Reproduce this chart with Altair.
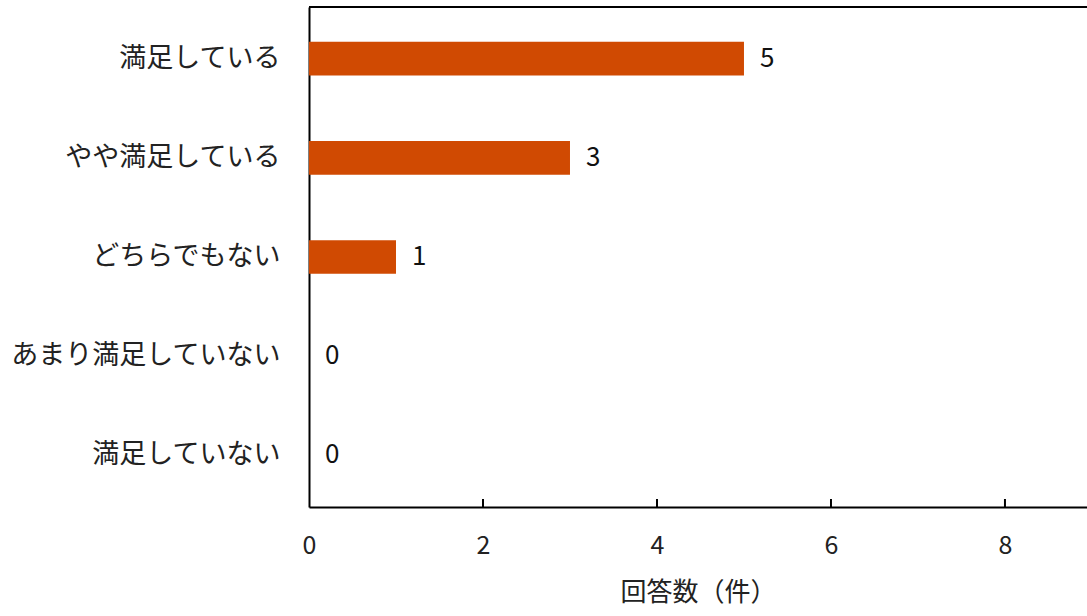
import altair as alt
import pandas as pd

categories = ["満足している", "やや満足している", "どちらでもない", "あまり満足していない", "満足していない"]
counts = [5, 3, 1, 0, 0]
tick_values = [2, 4, 6, 8]

df = pd.DataFrame({"cat": categories, "n": counts})
ticks_df = pd.DataFrame({"t": tick_values})

W, H = 778, 500
FONT = "Noto Sans CJK JP"

x_scale = alt.Scale(domain=[0, 8.943], nice=False, zero=True)
y_scale = alt.Scale(domain=categories, paddingInner=0.66, paddingOuter=0.35)

bars = alt.Chart(df).mark_bar(color="#D04A02").encode(
    x=alt.X("n:Q", scale=x_scale,
            axis=alt.Axis(title="回答数（件）", values=[0, 2, 4, 6, 8], format="d", tickSize=0,
                          labelFontSize=25, labelPadding=26, labelColor="#222222",
                          labelFlush=False,
                          titleFontSize=26, titlePadding=21, titleColor="#222222",
                          titleFontWeight="normal", domainColor="#000000", domainWidth=2,
                          grid=False, labelFont=FONT, titleFont=FONT)),
    y=alt.Y("cat:N", scale=y_scale, sort=categories,
            axis=alt.Axis(title=None, ticks=False, labelFontSize=27, labelPadding=29,
                          labelLimit=0, labelColor="#222222", domainColor="#000000",
                          domainWidth=2, labelFont=FONT, grid=False)),
)

labels = alt.Chart(df).mark_text(align="left", baseline="middle", dx=16, fontSize=26,
                                 font=FONT, color="#111111").encode(
    x=alt.X("n:Q", scale=x_scale),
    y=alt.Y("cat:N", scale=y_scale, sort=categories),
    text=alt.Text("n:Q", format="d"),
)

inner_ticks = alt.Chart(ticks_df).mark_rule(color="#000000", strokeWidth=2).encode(
    x=alt.X("t:Q", scale=x_scale),
    y=alt.value(H - 8),
    y2=alt.value(H),
)

top_line = alt.Chart(ticks_df).mark_rule(color="#000000", strokeWidth=2).encode(
    x=alt.value(0), x2=alt.value(W + 2), y=alt.value(0)
)

chart = alt.layer(bars, labels, inner_ticks, top_line).properties(
    width=W, height=H,
    autosize=alt.AutoSizeParams(type="none"),
    padding={"left": 309, "top": 7, "right": 0, "bottom": 109},
).configure_view(stroke=None).configure(background="white")

chart.save("out.html", embed_options={"renderer": "svg", "actions": False})
